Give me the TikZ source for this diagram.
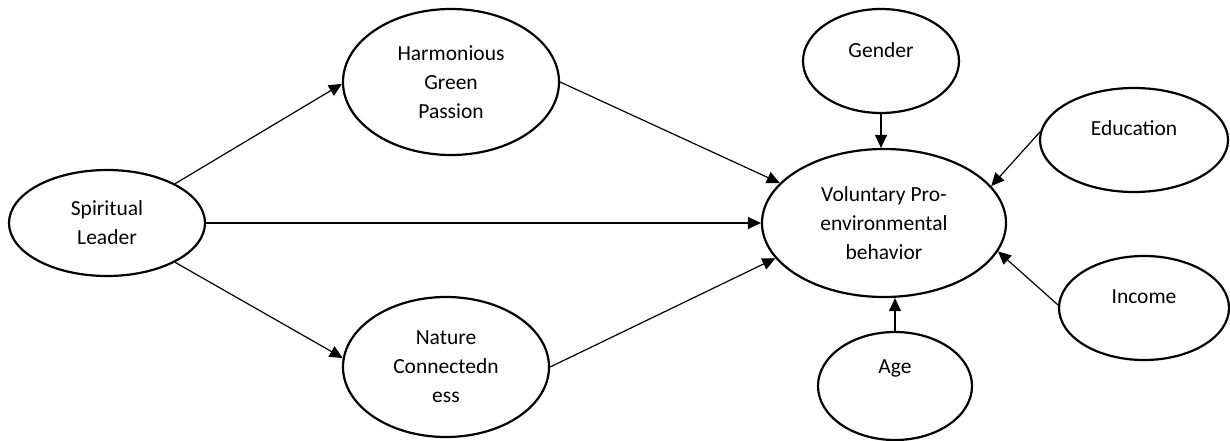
\documentclass[tikz,border=0pt]{standalone}
\usepackage{fontspec}
\setmainfont{Carlito}
\usetikzlibrary{shapes.geometric,arrows.meta}
\begin{document}
\begin{tikzpicture}[x=1pt,y=-1pt,
  ell/.style={draw, ellipse, line width=2.2pt, inner sep=0pt, align=center,
    font=\fontsize{21.5}{29}\selectfont},
  conn/.style={line width=1.2pt, -{Triangle[length=13pt,width=12pt]}},
  lab/.style={font=\fontsize{21.5}{29}\selectfont}]
\useasboundingbox (0,0) rectangle (1230,441);
\node[ell, minimum width=196pt, minimum height=106pt] (sl) at (107,223) {Spiritual\\Leader};
\node[ell, minimum width=216pt, minimum height=146pt] (hgp) at (451,82) {Harmonious\\Green\\Passion};
\node[ell, minimum width=206pt, minimum height=140pt] (nc) at (446,367) {Nature\\Connectedn\\ess};
\node[ell, minimum width=244pt, minimum height=148pt] (vpb) at (884,223) {Voluntary Pro-\\environmental\\behavior};
\node[ell, minimum width=156pt, minimum height=104pt, label={[lab,yshift=11pt]center:Gender}] (g) at (881,61) {};
\node[ell, minimum width=188pt, minimum height=104pt, label={[lab,yshift=12pt]center:Education}] (edu) at (1134,140) {};
\node[ell, minimum width=170pt, minimum height=104pt, label={[lab,yshift=11pt]center:Income}] (inc) at (1144,308) {};
\node[ell, minimum width=154pt, minimum height=108pt, label={[lab,yshift=18pt]center:Age}] (age) at (895,386) {};
\draw[conn] (sl.30) -- (hgp.181);
\draw[conn] (sl.east) -- (vpb.west);
\draw[conn] (sl.-30) -- (nc.175);
\draw[conn] (hgp.east) -- (vpb.159);
\draw[conn] (nc.east) -- (vpb.198);
\draw[conn] (g.south) -- (g.south |- vpb.north);
\draw[conn] (edu.175) -- (vpb.19);
\draw[conn] (inc.178) -- (vpb.-14);
\draw[conn] (age.north) -- (age.north |- vpb.south);
\end{tikzpicture}
\end{document}
